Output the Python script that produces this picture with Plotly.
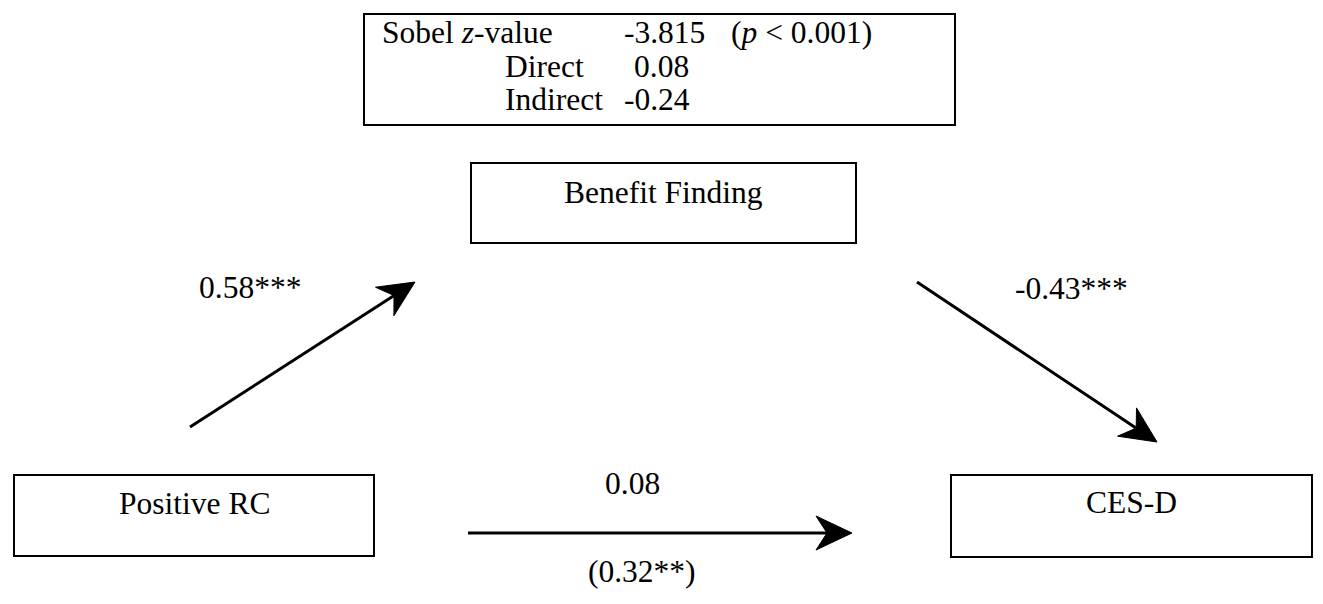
import numpy as np
import plotly.graph_objects as go

# ---------------- data ----------------
node_labels = ["Positive RC", "Benefit Finding", "CES-D"]
path_labels = ["0.58***", "-0.43***", "0.08"]
total_effect_label = "(0.32**)"
sobel_row_labels = ["Sobel <i>z</i>-value", "Direct", "Indirect"]
sobel_values = ["-3.815", "0.08", "-0.24"]
sobel_p_label = "(<i>p</i> &lt; 0.001)"

# ---------------- layout constants ----------------
W, H = 1323, 604
PAGE_MARGIN = 8          # default body margin of the html page
FW, FH = W - 2 * PAGE_MARGIN, H - 2 * PAGE_MARGIN
FONT = "Liberation Serif, Times New Roman, serif"
FS = 31.5
BLACK = "#000000"

node_boxes = [  # x0, y0, x1, y1 (screen pixels, y down)
    (14, 475, 374, 556),
    (471, 163, 856, 243),
    (951, 475, 1312, 557),
]
node_text_y = [503, 192, 502]

sobel_box = (364, 14, 955, 125)
sobel_row_y = [32, 66, 99]
sobel_label_x = [380, 503, 503]
sobel_value_x = [622, 632, 622]
sobel_p_x = 729

arrows = [  # tail, tip
    ((190, 427), (415, 282)),
    ((917, 282), (1157, 442)),
    ((468, 533), (852, 533)),
]
label_pos = [(250, 287), (1071, 288), (632, 483)]
total_label_pos = (642, 571)

fig = go.Figure()
fig.add_trace(go.Scatter(x=[PAGE_MARGIN, PAGE_MARGIN + FW], y=[PAGE_MARGIN, PAGE_MARGIN + FH],
                         mode="markers", marker=dict(opacity=0), hoverinfo="skip",
                         showlegend=False))

shapes = []
annotations = []

def ann(x, y, text, xanchor="center"):
    annotations.append(dict(x=x, y=y, xref="x", yref="y", text=text, showarrow=False,
                            xanchor=xanchor, yanchor="middle",
                            font=dict(family=FONT, size=FS, color=BLACK)))

# node boxes
for (x0, y0, x1, y1), lab, ty in zip(node_boxes, node_labels, node_text_y):
    shapes.append(dict(type="rect", x0=x0, y0=y0, x1=x1, y1=y1, xref="x", yref="y",
                       line=dict(color=BLACK, width=2), fillcolor="rgba(0,0,0,0)"))
    ann((x0 + x1) / 2, ty, lab)

# sobel box
x0, y0, x1, y1 = sobel_box
shapes.append(dict(type="rect", x0=x0, y0=y0, x1=x1, y1=y1, xref="x", yref="y",
                   line=dict(color=BLACK, width=2), fillcolor="rgba(0,0,0,0)"))
for lab, val, y, lx, vx in zip(sobel_row_labels, sobel_values, sobel_row_y,
                               sobel_label_x, sobel_value_x):
    ann(lx, y, lab, xanchor="left")
    ann(vx, y, val, xanchor="left")
ann(sobel_p_x, sobel_row_y[0], sobel_p_label, xanchor="left")

# arrows
HL, HW, HN = 36, 17, 25
for (tail, tip) in arrows:
    t = np.array(tail, float)
    p = np.array(tip, float)
    u = (p - t) / np.linalg.norm(p - t)
    n = np.array([-u[1], u[0]])
    notch = p - HN * u
    shapes.append(dict(type="line", x0=t[0], y0=t[1], x1=notch[0] + u[0] * 2,
                       y1=notch[1] + u[1] * 2, xref="x", yref="y",
                       line=dict(color=BLACK, width=3)))
    b1 = p - HL * u + HW * n
    b2 = p - HL * u - HW * n
    path = (f"M {p[0]:.1f},{p[1]:.1f} L {b1[0]:.1f},{b1[1]:.1f} "
            f"L {notch[0]:.1f},{notch[1]:.1f} L {b2[0]:.1f},{b2[1]:.1f} Z")
    shapes.append(dict(type="path", path=path, xref="x", yref="y",
                       fillcolor=BLACK, line=dict(color=BLACK, width=1)))

for (lx, ly), lab in zip(label_pos, path_labels):
    ann(lx, ly, lab)
ann(total_label_pos[0], total_label_pos[1], total_effect_label)

fig.update_layout(
    width=FW, height=FH,
    margin=dict(l=0, r=0, t=0, b=0),
    paper_bgcolor="white", plot_bgcolor="white",
    xaxis=dict(range=[PAGE_MARGIN, PAGE_MARGIN + FW], visible=False, fixedrange=True),
    yaxis=dict(range=[PAGE_MARGIN + FH, PAGE_MARGIN], visible=False, fixedrange=True),
    shapes=shapes, annotations=annotations, showlegend=False,
)
fig.write_html("out.html", config={"displayModeBar": False})
